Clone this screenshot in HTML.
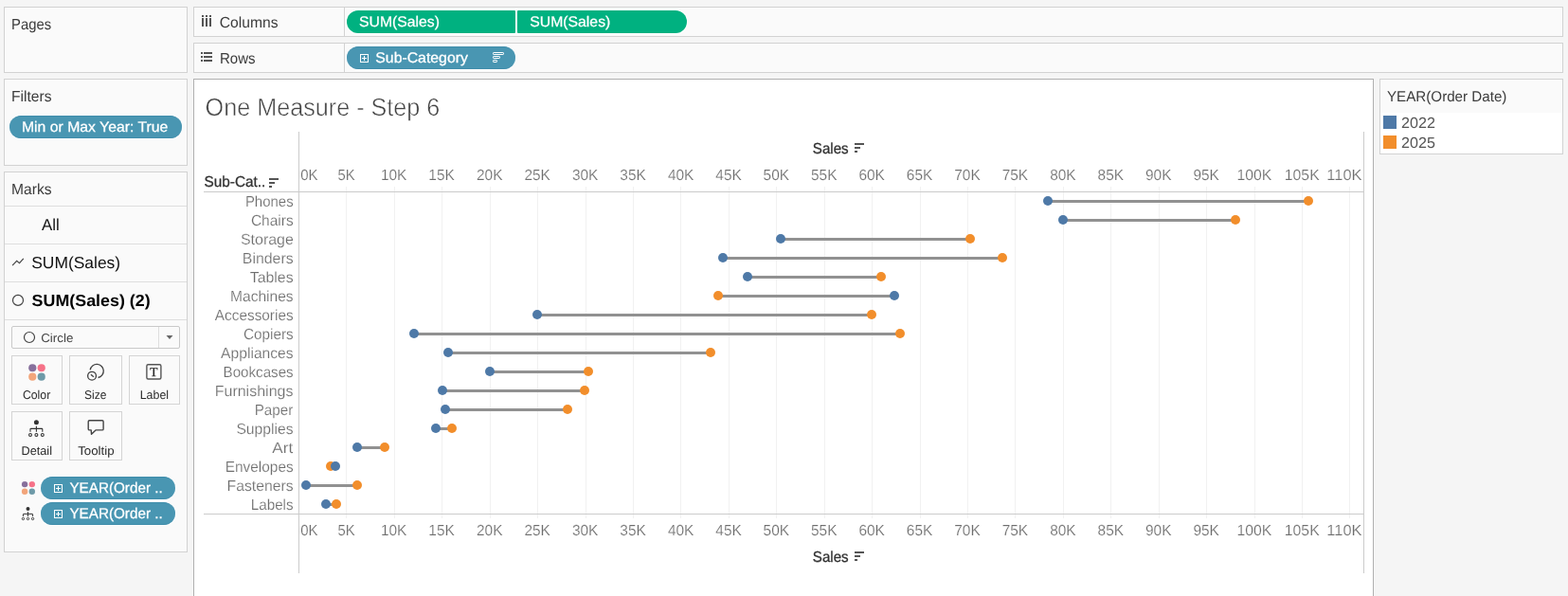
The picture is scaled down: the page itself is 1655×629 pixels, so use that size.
<!DOCTYPE html>
<html lang="en"><head><meta charset="utf-8"><title>One Measure - Step 6</title>
<style>
*{box-sizing:border-box;margin:0;padding:0}
html,body{width:1655px;height:629px;overflow:hidden;background:#f5f5f5}
body{position:relative;font-family:"Liberation Sans",Arial,sans-serif}
.t{position:absolute;white-space:nowrap;transform-origin:0 0}
.box{position:absolute;background:#fafafa;border:1px solid #d2d2d2}
.pill{position:absolute;height:24px;border-radius:12px;background:#4996b2;border-top:1px solid #3f8dab;border-bottom:1px solid #3f8dab;box-shadow:0 0 0 1px rgba(255,255,255,.75)}
.pill.g{background:#00b180;border:0;box-shadow:0 0 0 1px #fff}
.hl{position:absolute;height:1px;background:#dedede}
.btn{position:absolute;border:1px solid #d4d4d4;background:#fafafa}
svg{position:absolute;left:0;top:0;overflow:visible;pointer-events:none}
</style></head><body>
<div class="box" style="left:4px;top:7px;width:194px;height:70px"></div>
<div class="box" style="left:4px;top:83px;width:194px;height:92px"></div>
<div class="pill" style="left:10px;top:122px;width:182px"></div>
<div class="box" style="left:4px;top:181px;width:194px;height:402px"></div>
<div class="hl" style="left:5px;top:217px;width:192px"></div>
<div class="hl" style="left:5px;top:257px;width:192px"></div>
<div class="hl" style="left:5px;top:297px;width:192px"></div>
<div class="hl" style="left:5px;top:337px;width:192px"></div>
<div class="btn" style="left:12px;top:344px;width:178px;height:24px;border-radius:2px;border-color:#c9c9c9"></div>
<div style="position:absolute;left:167px;top:345px;width:1px;height:22px;background:#dedede"></div>
<div class="btn" style="left:12px;top:375px;width:54px;height:52px"></div>
<div class="btn" style="left:73px;top:375px;width:56px;height:52px"></div>
<div class="btn" style="left:136px;top:375px;width:54px;height:52px"></div>
<div class="btn" style="left:12px;top:434px;width:54px;height:52px"></div>
<div class="btn" style="left:73px;top:434px;width:56px;height:52px"></div>
<div class="pill" style="left:43px;top:503px;width:142px"></div>
<div class="pill" style="left:43px;top:530px;width:142px"></div>
<div class="box" style="left:204px;top:7px;width:1446px;height:32px"></div>
<div class="box" style="left:204px;top:45px;width:1446px;height:32px"></div>
<div style="position:absolute;left:363px;top:8px;width:1px;height:30px;background:#d2d2d2"></div>
<div style="position:absolute;left:363px;top:46px;width:1px;height:30px;background:#d2d2d2"></div>
<div class="pill g" style="left:366px;top:11px;width:178px;border-radius:12px 1px 1px 12px"></div>
<div class="pill g" style="left:546px;top:11px;width:178.6px;border-radius:1px 12px 12px 1px"></div>
<div class="pill" style="left:366px;top:49px;width:178px"></div>
<div style="position:absolute;left:204px;top:83px;width:1246px;height:560px;background:#fff;border:1px solid #b0b0b0"></div>
<div class="box" style="left:1456px;top:83px;width:194px;height:80px"></div>
<div style="position:absolute;left:1457px;top:119px;width:192px;height:43px;background:#fff"></div>
<div style="position:absolute;left:1460px;top:122px;width:14px;height:14px;background:#4e79a7"></div>
<div style="position:absolute;left:1460px;top:143px;width:14px;height:14px;background:#f28e2b"></div>
<svg width="1655" height="629" viewBox="0 0 1655 629">
<line x1="365.5" y1="197" x2="365.5" y2="547" stroke="#f1f1f1" stroke-width="1"/>
<line x1="416.5" y1="197" x2="416.5" y2="547" stroke="#f1f1f1" stroke-width="1"/>
<line x1="466.5" y1="197" x2="466.5" y2="547" stroke="#f1f1f1" stroke-width="1"/>
<line x1="517.5" y1="197" x2="517.5" y2="547" stroke="#f1f1f1" stroke-width="1"/>
<line x1="567.5" y1="197" x2="567.5" y2="547" stroke="#f1f1f1" stroke-width="1"/>
<line x1="618.5" y1="197" x2="618.5" y2="547" stroke="#f1f1f1" stroke-width="1"/>
<line x1="668.5" y1="197" x2="668.5" y2="547" stroke="#f1f1f1" stroke-width="1"/>
<line x1="718.5" y1="197" x2="718.5" y2="547" stroke="#f1f1f1" stroke-width="1"/>
<line x1="769.5" y1="197" x2="769.5" y2="547" stroke="#f1f1f1" stroke-width="1"/>
<line x1="819.5" y1="197" x2="819.5" y2="547" stroke="#f1f1f1" stroke-width="1"/>
<line x1="870.5" y1="197" x2="870.5" y2="547" stroke="#f1f1f1" stroke-width="1"/>
<line x1="920.5" y1="197" x2="920.5" y2="547" stroke="#f1f1f1" stroke-width="1"/>
<line x1="971.5" y1="197" x2="971.5" y2="547" stroke="#f1f1f1" stroke-width="1"/>
<line x1="1021.5" y1="197" x2="1021.5" y2="547" stroke="#f1f1f1" stroke-width="1"/>
<line x1="1071.5" y1="197" x2="1071.5" y2="547" stroke="#f1f1f1" stroke-width="1"/>
<line x1="1122.5" y1="197" x2="1122.5" y2="547" stroke="#f1f1f1" stroke-width="1"/>
<line x1="1172.5" y1="197" x2="1172.5" y2="547" stroke="#f1f1f1" stroke-width="1"/>
<line x1="1223.5" y1="197" x2="1223.5" y2="547" stroke="#f1f1f1" stroke-width="1"/>
<line x1="1273.5" y1="197" x2="1273.5" y2="547" stroke="#f1f1f1" stroke-width="1"/>
<line x1="1324.5" y1="197" x2="1324.5" y2="547" stroke="#f1f1f1" stroke-width="1"/>
<line x1="1374.5" y1="197" x2="1374.5" y2="547" stroke="#f1f1f1" stroke-width="1"/>
<line x1="1424.5" y1="197" x2="1424.5" y2="547" stroke="#f1f1f1" stroke-width="1"/>
<line x1="215" y1="202.5" x2="1440" y2="202.5" stroke="#cbcbcb"/>
<line x1="215" y1="542.5" x2="1440" y2="542.5" stroke="#cbcbcb"/>
<line x1="315.5" y1="139" x2="315.5" y2="605" stroke="#cbcbcb"/>
<line x1="1439.5" y1="139" x2="1439.5" y2="605" stroke="#cbcbcb"/>
<line x1="1106" y1="212.5" x2="1381" y2="212.5" stroke="#919191" stroke-width="3"/>
<line x1="1122" y1="232.5" x2="1304" y2="232.5" stroke="#919191" stroke-width="3"/>
<line x1="824" y1="252.5" x2="1024" y2="252.5" stroke="#919191" stroke-width="3"/>
<line x1="763" y1="272.5" x2="1058" y2="272.5" stroke="#919191" stroke-width="3"/>
<line x1="789" y1="292.5" x2="930" y2="292.5" stroke="#919191" stroke-width="3"/>
<line x1="758" y1="312.5" x2="944" y2="312.5" stroke="#919191" stroke-width="3"/>
<line x1="567" y1="332.5" x2="920" y2="332.5" stroke="#919191" stroke-width="3"/>
<line x1="437" y1="352.5" x2="950" y2="352.5" stroke="#919191" stroke-width="3"/>
<line x1="473" y1="372.5" x2="750" y2="372.5" stroke="#919191" stroke-width="3"/>
<line x1="517" y1="392.5" x2="621" y2="392.5" stroke="#919191" stroke-width="3"/>
<line x1="467" y1="412.5" x2="617" y2="412.5" stroke="#919191" stroke-width="3"/>
<line x1="470" y1="432.5" x2="599" y2="432.5" stroke="#919191" stroke-width="3"/>
<line x1="460" y1="452.5" x2="477" y2="452.5" stroke="#919191" stroke-width="3"/>
<line x1="377" y1="472.5" x2="406" y2="472.5" stroke="#919191" stroke-width="3"/>
<line x1="349" y1="492.5" x2="354" y2="492.5" stroke="#919191" stroke-width="3"/>
<line x1="323" y1="512.5" x2="377" y2="512.5" stroke="#919191" stroke-width="3"/>
<line x1="344" y1="532.5" x2="355" y2="532.5" stroke="#919191" stroke-width="3"/>
<circle cx="1381" cy="212" r="5" fill="#f28e2b"/>
<circle cx="1106" cy="212" r="5" fill="#4e79a7"/>
<circle cx="1304" cy="232" r="5" fill="#f28e2b"/>
<circle cx="1122" cy="232" r="5" fill="#4e79a7"/>
<circle cx="1024" cy="252" r="5" fill="#f28e2b"/>
<circle cx="824" cy="252" r="5" fill="#4e79a7"/>
<circle cx="1058" cy="272" r="5" fill="#f28e2b"/>
<circle cx="763" cy="272" r="5" fill="#4e79a7"/>
<circle cx="930" cy="292" r="5" fill="#f28e2b"/>
<circle cx="789" cy="292" r="5" fill="#4e79a7"/>
<circle cx="758" cy="312" r="5" fill="#f28e2b"/>
<circle cx="944" cy="312" r="5" fill="#4e79a7"/>
<circle cx="920" cy="332" r="5" fill="#f28e2b"/>
<circle cx="567" cy="332" r="5" fill="#4e79a7"/>
<circle cx="950" cy="352" r="5" fill="#f28e2b"/>
<circle cx="437" cy="352" r="5" fill="#4e79a7"/>
<circle cx="750" cy="372" r="5" fill="#f28e2b"/>
<circle cx="473" cy="372" r="5" fill="#4e79a7"/>
<circle cx="621" cy="392" r="5" fill="#f28e2b"/>
<circle cx="517" cy="392" r="5" fill="#4e79a7"/>
<circle cx="617" cy="412" r="5" fill="#f28e2b"/>
<circle cx="467" cy="412" r="5" fill="#4e79a7"/>
<circle cx="599" cy="432" r="5" fill="#f28e2b"/>
<circle cx="470" cy="432" r="5" fill="#4e79a7"/>
<circle cx="477" cy="452" r="5" fill="#f28e2b"/>
<circle cx="460" cy="452" r="5" fill="#4e79a7"/>
<circle cx="406" cy="472" r="5" fill="#f28e2b"/>
<circle cx="377" cy="472" r="5" fill="#4e79a7"/>
<circle cx="349" cy="492" r="5" fill="#f28e2b"/>
<circle cx="354" cy="492" r="5" fill="#4e79a7"/>
<circle cx="377" cy="512" r="5" fill="#f28e2b"/>
<circle cx="323" cy="512" r="5" fill="#4e79a7"/>
<circle cx="355" cy="532" r="5" fill="#f28e2b"/>
<circle cx="344" cy="532" r="5" fill="#4e79a7"/>
<g fill="#555"><rect x="902" y="151" width="10" height="2"/><rect x="902" y="155" width="6" height="2"/><rect x="902" y="159" width="3" height="2"/></g>
<g fill="#555"><rect x="902" y="582" width="10" height="2"/><rect x="902" y="586" width="6" height="2"/><rect x="902" y="590" width="3" height="2"/></g>
<g fill="#555"><rect x="284" y="188" width="10" height="2"/><rect x="284" y="192" width="6" height="2"/><rect x="284" y="196" width="3" height="2"/></g>
<rect x="213" y="16" width="2" height="2" fill="#555"/><rect x="213" y="19" width="2" height="9" fill="#555"/>
<rect x="217" y="16" width="2" height="2" fill="#555"/><rect x="217" y="19" width="2" height="9" fill="#555"/>
<rect x="221" y="16" width="2" height="2" fill="#555"/><rect x="221" y="19" width="2" height="9" fill="#555"/>
<rect x="212" y="55" width="2" height="2" fill="#555"/><rect x="215" y="55" width="9" height="2" fill="#555"/>
<rect x="212" y="59" width="2" height="2" fill="#555"/><rect x="215" y="59" width="9" height="2" fill="#555"/>
<rect x="212" y="63" width="2" height="2" fill="#555"/><rect x="215" y="63" width="9" height="2" fill="#555"/>
<g stroke="#fff" fill="none" stroke-width="1"><rect x="380.5" y="57.5" width="8" height="8"/><path d="M382 61.5H387M384.5 59V64"/></g>
<g stroke="#fff" fill="none" stroke-width="1"><rect x="57.5" y="511.5" width="8" height="8"/><path d="M59 515.5H64M61.5 513V518"/></g>
<g stroke="#fff" fill="none" stroke-width="1"><rect x="57.5" y="538.5" width="8" height="8"/><path d="M59 542.5H64M61.5 540V545"/></g>
<g stroke="#fff" fill="none" stroke-width="1"><rect x="520.5" y="55.5" width="11" height="2" rx="0.6"/><rect x="520.5" y="59.5" width="7" height="2" rx="0.6"/><rect x="520.5" y="63.5" width="4" height="2" rx="0.6"/></g>
<polyline points="13.1,280.1 17.7,275.4 20.5,277.6 24.8,272.9" fill="none" stroke="#444" stroke-width="1.2"/>
<circle cx="19" cy="316.9" r="5.5" fill="none" stroke="#444" stroke-width="1.2"/>
<circle cx="31" cy="356" r="5.5" fill="none" stroke="#444" stroke-width="1.2"/>
<path d="M175.5 354 L182.5 354 L179 358 Z" fill="#666"/>
<circle cx="34.28" cy="388.22999999999996" r="4.1" fill="#87709c"/><circle cx="43.72" cy="388.22999999999996" r="4.1" fill="#f67288"/><circle cx="34.28" cy="397.67" r="4.1" fill="#f2a57b"/><circle cx="43.72" cy="397.67" r="4.1" fill="#6e9aa8"/>
<circle cx="26.099999999999998" cy="511.1" r="3.2" fill="#87709c"/><circle cx="33.8" cy="511.1" r="3.2" fill="#f67288"/><circle cx="26.099999999999998" cy="518.8000000000001" r="3.2" fill="#f2a57b"/><circle cx="33.8" cy="518.8000000000001" r="3.2" fill="#6e9aa8"/>
<g fill="none" stroke="#444" stroke-width="1.35"><path d="M95.2 390.3 A7.1 7.1 0 1 1 103.5 398.5"/><circle cx="97.05" cy="396.7" r="4.4"/><path d="M95.9 395.3 L98.9 397.8"/></g>
<rect x="154.9" y="384.7" width="15" height="15.3" rx="1.5" fill="#fff" stroke="#555" stroke-width="1.4"/>
<g fill="none" stroke="#333" stroke-width="1.1"><circle cx="38.4" cy="445.7" r="2.5" fill="#333" stroke="none"/><path d="M38.4 449.7V455.7M32.0 455.7V453.0Q32.0 452.4 32.6 452.4H44.199999999999996Q44.8 452.4 44.8 453.0V455.7"/><circle cx="32.0" cy="458.9" r="1.45"/><circle cx="38.4" cy="458.9" r="1.45"/><circle cx="44.8" cy="458.9" r="1.45"/></g>
<g fill="none" stroke="#333" stroke-width="1"><circle cx="29.5" cy="537.05" r="1.975" fill="#333" stroke="none"/><path d="M29.5 540.2099999999999V544.9499999999999M24.444 544.9499999999999V542.817Q24.444 542.343 24.918 542.343H34.082Q34.556 542.343 34.556 542.817V544.9499999999999"/><circle cx="24.444" cy="547.478" r="1.1455"/><circle cx="29.5" cy="547.478" r="1.1455"/><circle cx="34.556" cy="547.478" r="1.1455"/></g>
<path d="M94.4 443.8 H107.9 Q109.1 443.8 109.1 445 V452.7 Q109.1 453.9 107.9 453.9 H101 L96.5 458.3 L96.2 453.9 H94.4 Q93.2 453.9 93.2 452.7 V445 Q93.2 443.8 94.4 443.8 Z" fill="none" stroke="#444" stroke-width="1.4" stroke-linejoin="round"/>
</svg>
<svg width="1655" height="629" viewBox="0 0 1655 629" font-family="'Liberation Sans',Arial,sans-serif" style="text-rendering:geometricPrecision">
<text font-size="16" fill="#3c3c3c" transform="translate(12.06 31) scale(0.9270 1)">Pages</text>
<text font-size="16" fill="#3c3c3c" transform="translate(12.00 107) scale(0.9769 1)">Filters</text>
<text font-size="15.4" fill="#fff" stroke="#fff" stroke-width="0.25" transform="translate(22.94 138.8) scale(1.0252 1)">Min or Max Year: True</text>
<text font-size="16" fill="#3c3c3c" transform="translate(12.00 205) scale(0.9769 1)">Marks</text>
<text font-size="17.2" fill="#111" transform="translate(44.00 243) scale(0.9809 1)">All</text>
<text font-size="17.3" fill="#111" transform="translate(33.22 283) scale(1.0081 1)">SUM(Sales)</text>
<text font-size="17.3" fill="#000" font-weight="700" transform="translate(33.55 323) scale(1.0345 1)">SUM(Sales) (2)</text>
<text font-size="12.8" fill="#444" transform="translate(43.13 361) scale(1.0461 1)">Circle</text>
<text font-size="12.8" fill="#2a2a2a" transform="translate(23.89 421) scale(0.9603 1)">Color</text>
<text font-size="12.8" fill="#2a2a2a" transform="translate(89.06 421) scale(0.9371 1)">Size</text>
<text font-size="12.8" fill="#2a2a2a" transform="translate(147.71 421) scale(0.9695 1)">Label</text>
<text font-size="12.8" fill="#2a2a2a" transform="translate(22.59 480) scale(0.9901 1)">Detail</text>
<text font-size="12.8" fill="#2a2a2a" transform="translate(82.13 480) scale(1.0382 1)">Tooltip</text>
<text font-size="15.4" fill="#fff" stroke="#fff" stroke-width="0.25" transform="translate(73.39 519.8) scale(0.9907 1)">YEAR(Order ..</text>
<text font-size="15.4" fill="#fff" stroke="#fff" stroke-width="0.25" transform="translate(73.39 546.8) scale(0.9907 1)">YEAR(Order ..</text>
<text font-size="16" fill="#3c3c3c" transform="translate(231.82 29) scale(0.9762 1)">Columns</text>
<text font-size="16" fill="#3c3c3c" transform="translate(232.00 67) scale(0.9380 1)">Rows</text>
<text font-size="15.4" fill="#fff" stroke="#fff" stroke-width="0.25" transform="translate(378.99 27.8) scale(1.0244 1)">SUM(Sales)</text>
<text font-size="15.4" fill="#fff" stroke="#fff" stroke-width="0.25" transform="translate(559.29 27.8) scale(1.0244 1)">SUM(Sales)</text>
<text font-size="15.4" fill="#fff" stroke="#fff" stroke-width="0.25" transform="translate(396.29 65.8) scale(1.0273 1)">Sub-Category</text>
<text font-size="26.2" fill="#444" stroke="#fff" stroke-width="0.5" transform="translate(216.57 122) scale(0.9616 1)">One Measure - Step 6</text>
<text font-size="15.5" fill="#3c3c3c" transform="translate(1464.00 106.8) scale(0.9782 1)">YEAR(Order Date)</text>
<text font-size="16" fill="#555" transform="translate(1479.09 135) scale(1.0072 1)">2022</text>
<text font-size="16" fill="#555" transform="translate(1479.10 156) scale(1.0048 1)">2025</text>
<text x="158.2" y="396.6" font-family="'Liberation Serif',serif" font-size="13.4" fill="#222" stroke="#222" stroke-width="0.25">T</text>
<text font-size="16" fill="#6e6e6e" stroke="#fff" stroke-width="0.18" transform="translate(258.90 218) scale(0.9347 1)">Phones</text>
<text font-size="16" fill="#6e6e6e" stroke="#fff" stroke-width="0.18" transform="translate(264.93 238) scale(0.9671 1)">Chairs</text>
<text font-size="16" fill="#6e6e6e" stroke="#fff" stroke-width="0.18" x="253.88" y="258">Storage</text>
<text font-size="16" fill="#6e6e6e" stroke="#fff" stroke-width="0.18" transform="translate(255.83 278) scale(0.9922 1)">Binders</text>
<text font-size="16" fill="#6e6e6e" stroke="#fff" stroke-width="0.18" transform="translate(263.68 298) scale(0.9940 1)">Tables</text>
<text font-size="16" fill="#6e6e6e" stroke="#fff" stroke-width="0.18" transform="translate(243.00 318) scale(0.9732 1)">Machines</text>
<text font-size="16" fill="#6e6e6e" stroke="#fff" stroke-width="0.18" transform="translate(226.80 338) scale(0.9604 1)">Accessories</text>
<text font-size="16" fill="#6e6e6e" stroke="#fff" stroke-width="0.18" transform="translate(257.04 358) scale(0.9540 1)">Copiers</text>
<text font-size="16" fill="#6e6e6e" stroke="#fff" stroke-width="0.18" transform="translate(233.10 378) scale(0.9780 1)">Appliances</text>
<text font-size="16" fill="#6e6e6e" stroke="#fff" stroke-width="0.18" transform="translate(235.59 398) scale(0.9460 1)">Bookcases</text>
<text font-size="16" fill="#6e6e6e" stroke="#fff" stroke-width="0.18" x="226.72" y="418">Furnishings</text>
<text font-size="16" fill="#6e6e6e" stroke="#fff" stroke-width="0.18" transform="translate(268.68 438) scale(0.9513 1)">Paper</text>
<text font-size="16" fill="#6e6e6e" stroke="#fff" stroke-width="0.18" transform="translate(249.39 458) scale(0.9818 1)">Supplies</text>
<text font-size="16" fill="#6e6e6e" stroke="#fff" stroke-width="0.18" transform="translate(287.35 478) scale(1.0662 1)">Art</text>
<text font-size="16" fill="#6e6e6e" stroke="#fff" stroke-width="0.18" transform="translate(237.77 498) scale(0.9619 1)">Envelopes</text>
<text font-size="16" fill="#6e6e6e" stroke="#fff" stroke-width="0.18" transform="translate(239.54 518) scale(0.9856 1)">Fasteners</text>
<text font-size="16" fill="#6e6e6e" stroke="#fff" stroke-width="0.18" transform="translate(264.68 538) scale(0.9535 1)">Labels</text>
<text font-size="16" fill="#6e6e6e" stroke="#fff" stroke-width="0.18" transform="translate(317.28 190) scale(0.9366 1)">0K</text>
<text font-size="16" fill="#6e6e6e" stroke="#fff" stroke-width="0.18" transform="translate(317.28 565) scale(0.9366 1)">0K</text>
<text font-size="16" fill="#6e6e6e" stroke="#fff" stroke-width="0.18" transform="translate(356.43 190) scale(0.9300 1)">5K</text>
<text font-size="16" fill="#6e6e6e" stroke="#fff" stroke-width="0.18" transform="translate(356.43 565) scale(0.9300 1)">5K</text>
<text font-size="16" fill="#6e6e6e" stroke="#fff" stroke-width="0.18" transform="translate(401.94 190) scale(0.9650 1)">10K</text>
<text font-size="16" fill="#6e6e6e" stroke="#fff" stroke-width="0.18" transform="translate(401.94 565) scale(0.9650 1)">10K</text>
<text font-size="16" fill="#6e6e6e" stroke="#fff" stroke-width="0.18" transform="translate(452.36 190) scale(0.9650 1)">15K</text>
<text font-size="16" fill="#6e6e6e" stroke="#fff" stroke-width="0.18" transform="translate(452.36 565) scale(0.9650 1)">15K</text>
<text font-size="16" fill="#6e6e6e" stroke="#fff" stroke-width="0.18" transform="translate(502.98 190) scale(0.9650 1)">20K</text>
<text font-size="16" fill="#6e6e6e" stroke="#fff" stroke-width="0.18" transform="translate(502.98 565) scale(0.9650 1)">20K</text>
<text font-size="16" fill="#6e6e6e" stroke="#fff" stroke-width="0.18" transform="translate(553.41 190) scale(0.9650 1)">25K</text>
<text font-size="16" fill="#6e6e6e" stroke="#fff" stroke-width="0.18" transform="translate(553.41 565) scale(0.9650 1)">25K</text>
<text font-size="16" fill="#6e6e6e" stroke="#fff" stroke-width="0.18" transform="translate(603.95 190) scale(0.9650 1)">30K</text>
<text font-size="16" fill="#6e6e6e" stroke="#fff" stroke-width="0.18" transform="translate(603.95 565) scale(0.9650 1)">30K</text>
<text font-size="16" fill="#6e6e6e" stroke="#fff" stroke-width="0.18" transform="translate(654.37 190) scale(0.9650 1)">35K</text>
<text font-size="16" fill="#6e6e6e" stroke="#fff" stroke-width="0.18" transform="translate(654.37 565) scale(0.9650 1)">35K</text>
<text font-size="16" fill="#6e6e6e" stroke="#fff" stroke-width="0.18" transform="translate(704.91 190) scale(0.9650 1)">40K</text>
<text font-size="16" fill="#6e6e6e" stroke="#fff" stroke-width="0.18" transform="translate(704.91 565) scale(0.9650 1)">40K</text>
<text font-size="16" fill="#6e6e6e" stroke="#fff" stroke-width="0.18" transform="translate(755.34 190) scale(0.9650 1)">45K</text>
<text font-size="16" fill="#6e6e6e" stroke="#fff" stroke-width="0.18" transform="translate(755.34 565) scale(0.9650 1)">45K</text>
<text font-size="16" fill="#6e6e6e" stroke="#fff" stroke-width="0.18" transform="translate(805.61 190) scale(0.9650 1)">50K</text>
<text font-size="16" fill="#6e6e6e" stroke="#fff" stroke-width="0.18" transform="translate(805.61 565) scale(0.9650 1)">50K</text>
<text font-size="16" fill="#6e6e6e" stroke="#fff" stroke-width="0.18" transform="translate(856.03 190) scale(0.9650 1)">55K</text>
<text font-size="16" fill="#6e6e6e" stroke="#fff" stroke-width="0.18" transform="translate(856.03 565) scale(0.9650 1)">55K</text>
<text font-size="16" fill="#6e6e6e" stroke="#fff" stroke-width="0.18" transform="translate(906.38 190) scale(0.9650 1)">60K</text>
<text font-size="16" fill="#6e6e6e" stroke="#fff" stroke-width="0.18" transform="translate(906.38 565) scale(0.9650 1)">60K</text>
<text font-size="16" fill="#6e6e6e" stroke="#fff" stroke-width="0.18" transform="translate(956.81 190) scale(0.9650 1)">65K</text>
<text font-size="16" fill="#6e6e6e" stroke="#fff" stroke-width="0.18" transform="translate(956.81 565) scale(0.9650 1)">65K</text>
<text font-size="16" fill="#6e6e6e" stroke="#fff" stroke-width="0.18" transform="translate(1007.23 190) scale(0.9650 1)">70K</text>
<text font-size="16" fill="#6e6e6e" stroke="#fff" stroke-width="0.18" transform="translate(1007.23 565) scale(0.9650 1)">70K</text>
<text font-size="16" fill="#6e6e6e" stroke="#fff" stroke-width="0.18" transform="translate(1057.66 190) scale(0.9650 1)">75K</text>
<text font-size="16" fill="#6e6e6e" stroke="#fff" stroke-width="0.18" transform="translate(1057.66 565) scale(0.9650 1)">75K</text>
<text font-size="16" fill="#6e6e6e" stroke="#fff" stroke-width="0.18" transform="translate(1108.16 190) scale(0.9650 1)">80K</text>
<text font-size="16" fill="#6e6e6e" stroke="#fff" stroke-width="0.18" transform="translate(1108.16 565) scale(0.9650 1)">80K</text>
<text font-size="16" fill="#6e6e6e" stroke="#fff" stroke-width="0.18" transform="translate(1158.58 190) scale(0.9650 1)">85K</text>
<text font-size="16" fill="#6e6e6e" stroke="#fff" stroke-width="0.18" transform="translate(1158.58 565) scale(0.9650 1)">85K</text>
<text font-size="16" fill="#6e6e6e" stroke="#fff" stroke-width="0.18" transform="translate(1208.97 190) scale(0.9650 1)">90K</text>
<text font-size="16" fill="#6e6e6e" stroke="#fff" stroke-width="0.18" transform="translate(1208.97 565) scale(0.9650 1)">90K</text>
<text font-size="16" fill="#6e6e6e" stroke="#fff" stroke-width="0.18" transform="translate(1259.40 190) scale(0.9650 1)">95K</text>
<text font-size="16" fill="#6e6e6e" stroke="#fff" stroke-width="0.18" transform="translate(1259.40 565) scale(0.9650 1)">95K</text>
<text font-size="16" fill="#6e6e6e" stroke="#fff" stroke-width="0.18" transform="translate(1305.41 190) scale(0.9850 1)">100K</text>
<text font-size="16" fill="#6e6e6e" stroke="#fff" stroke-width="0.18" transform="translate(1305.41 565) scale(0.9850 1)">100K</text>
<text font-size="16" fill="#6e6e6e" stroke="#fff" stroke-width="0.18" transform="translate(1355.84 190) scale(0.9850 1)">105K</text>
<text font-size="16" fill="#6e6e6e" stroke="#fff" stroke-width="0.18" transform="translate(1355.84 565) scale(0.9850 1)">105K</text>
<text font-size="16" fill="#6e6e6e" stroke="#fff" stroke-width="0.18" transform="translate(1400.37 190) scale(1.0267 1)">110K</text>
<text font-size="16" fill="#6e6e6e" stroke="#fff" stroke-width="0.18" transform="translate(1400.37 565) scale(1.0267 1)">110K</text>
<text font-size="16" fill="#333" stroke="#333" stroke-width="0.3" transform="translate(857.82 162) scale(0.9447 1)">Sales</text>
<text font-size="16" fill="#333" stroke="#333" stroke-width="0.3" transform="translate(857.82 593) scale(0.9447 1)">Sales</text>
<text font-size="16" fill="#333" stroke="#333" stroke-width="0.3" transform="translate(215.51 197) scale(0.9594 1)">Sub-Cat..</text>
</svg>
</body></html>
